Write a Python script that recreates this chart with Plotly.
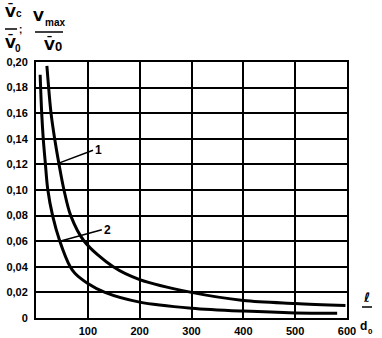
import plotly.graph_objects as go

# Relative distance l/d0 and normalised velocities for the two curves
l_curve1 = [21, 29, 36, 44, 54, 67, 93, 149, 200, 300, 400, 500, 597]
v_curve1 = [0.197, 0.160, 0.140, 0.121, 0.100, 0.080, 0.060, 0.040, 0.030, 0.020, 0.0137, 0.0114, 0.0098]

l_curve2 = [8, 11, 14, 18, 22.5, 32, 46, 66, 75, 100, 133, 200, 300, 400, 500, 581]
v_curve2 = [0.190, 0.160, 0.140, 0.121, 0.101, 0.080, 0.060, 0.040, 0.035, 0.027, 0.020, 0.0124, 0.0077, 0.0054, 0.0040, 0.0038]

x_ticks = [100, 200, 300, 400, 500, 600]
y_ticks = [0, 0.02, 0.04, 0.06, 0.08, 0.10, 0.12, 0.14, 0.16, 0.18, 0.20]
y_tick_text = ["0"] + [f"{v:.2f}".replace(".", ",") for v in y_ticks[1:]]

W, H = 382, 338
ML, MR, MT, MB = 36, 35, 62, 20
PW, PH = W - ML - MR, H - MT - MB


def px(x):
    return (x - ML) / PW


def py(y):
    return (H - MB - y) / PH


fig = go.Figure()
for xs, ys in [(l_curve1, v_curve1), (l_curve2, v_curve2)]:
    fig.add_trace(go.Scatter(x=xs, y=ys, mode="lines",
                             line=dict(color="black", width=3, shape="spline", smoothing=0.9),
                             hoverinfo="skip", showlegend=False))

lab_font = dict(family="Liberation Sans", size=12, color="black", weight="bold")
big = dict(family="DejaVu Sans", size=14, color="black", weight="bold")
small = dict(family="Liberation Sans", size=10, color="black", weight="bold")


def note(x, y, text, font):
    return dict(x=px(x), y=py(y), xref="paper", yref="paper", text=text,
                showarrow=False, font=font, xanchor="center", yanchor="middle")


annotations = [
    dict(x=l_curve1[3], y=v_curve1[3], xref="x", yref="y", text="1", showarrow=True,
         arrowhead=0, arrowwidth=1.5, arrowcolor="black", ax=110, ay=0.131,
         axref="x", ayref="y", xanchor="left", yanchor="middle", font=lab_font),
    dict(x=l_curve2[6], y=v_curve2[6], xref="x", yref="y", text="2", showarrow=True,
         arrowhead=0, arrowwidth=1.5, arrowcolor="black", ax=127, ay=0.069,
         axref="x", ayref="y", xanchor="left", yanchor="middle", font=lab_font),
    # velocity ratio label of the y axis
    note(10, 11, "V\u0304", big),
    note(19, 13, "c", small),
    note(20, 29, ";", small),
    note(38, 16, "V", big),
    note(55, 22, "max", small),
    note(10, 42, "V\u0304", big),
    note(18, 48, "0", small),
    note(49, 44, "V\u0304", big),
    note(58, 46, "0", dict(big, family="Liberation Sans", size=13)),
    # distance ratio label of the x axis
    note(366, 297, "\u2113", dict(big, size=13)),
    note(364, 326, "d", dict(big, family="Liberation Sans", size=12)),
    note(371, 331, "0", dict(small, size=8)),
]

shapes = [
    dict(type="line", xref="paper", yref="paper", x0=px(5), x1=px(17), y0=py(29), y1=py(29),
         line=dict(color="black", width=1.5)),
    dict(type="line", xref="paper", yref="paper", x0=px(35), x1=px(63), y0=py(32), y1=py(32),
         line=dict(color="black", width=1.5)),
    dict(type="line", xref="paper", yref="paper", x0=px(362), x1=px(372), y0=py(307), y1=py(307),
         line=dict(color="black", width=1.5)),
]

tick_font = dict(family="Liberation Sans", size=11, color="black", weight="bold")

fig.update_layout(
    width=W, height=H,
    margin=dict(l=ML, r=MR, t=MT, b=MB, autoexpand=False),
    paper_bgcolor="white", plot_bgcolor="white",
    annotations=annotations, shapes=shapes,
    xaxis=dict(range=[0, 600], tickvals=x_ticks, ticktext=[str(v) for v in x_ticks],
               showgrid=True, gridcolor="black", gridwidth=2,
               showline=True, linecolor="black", linewidth=2, mirror=True,
               zeroline=False, ticks="", ticklen=0, tickfont=tick_font,
               ticklabelstandoff=2, automargin=False),
    yaxis=dict(range=[0, 0.20], tickvals=y_ticks, ticktext=y_tick_text,
               showgrid=True, gridcolor="black", gridwidth=2,
               showline=True, linecolor="black", linewidth=2, mirror=True,
               zeroline=False, ticks="", ticklen=0, tickfont=tick_font,
               ticklabelstandoff=4, automargin=False),
)

fig.write_html("out.html")
